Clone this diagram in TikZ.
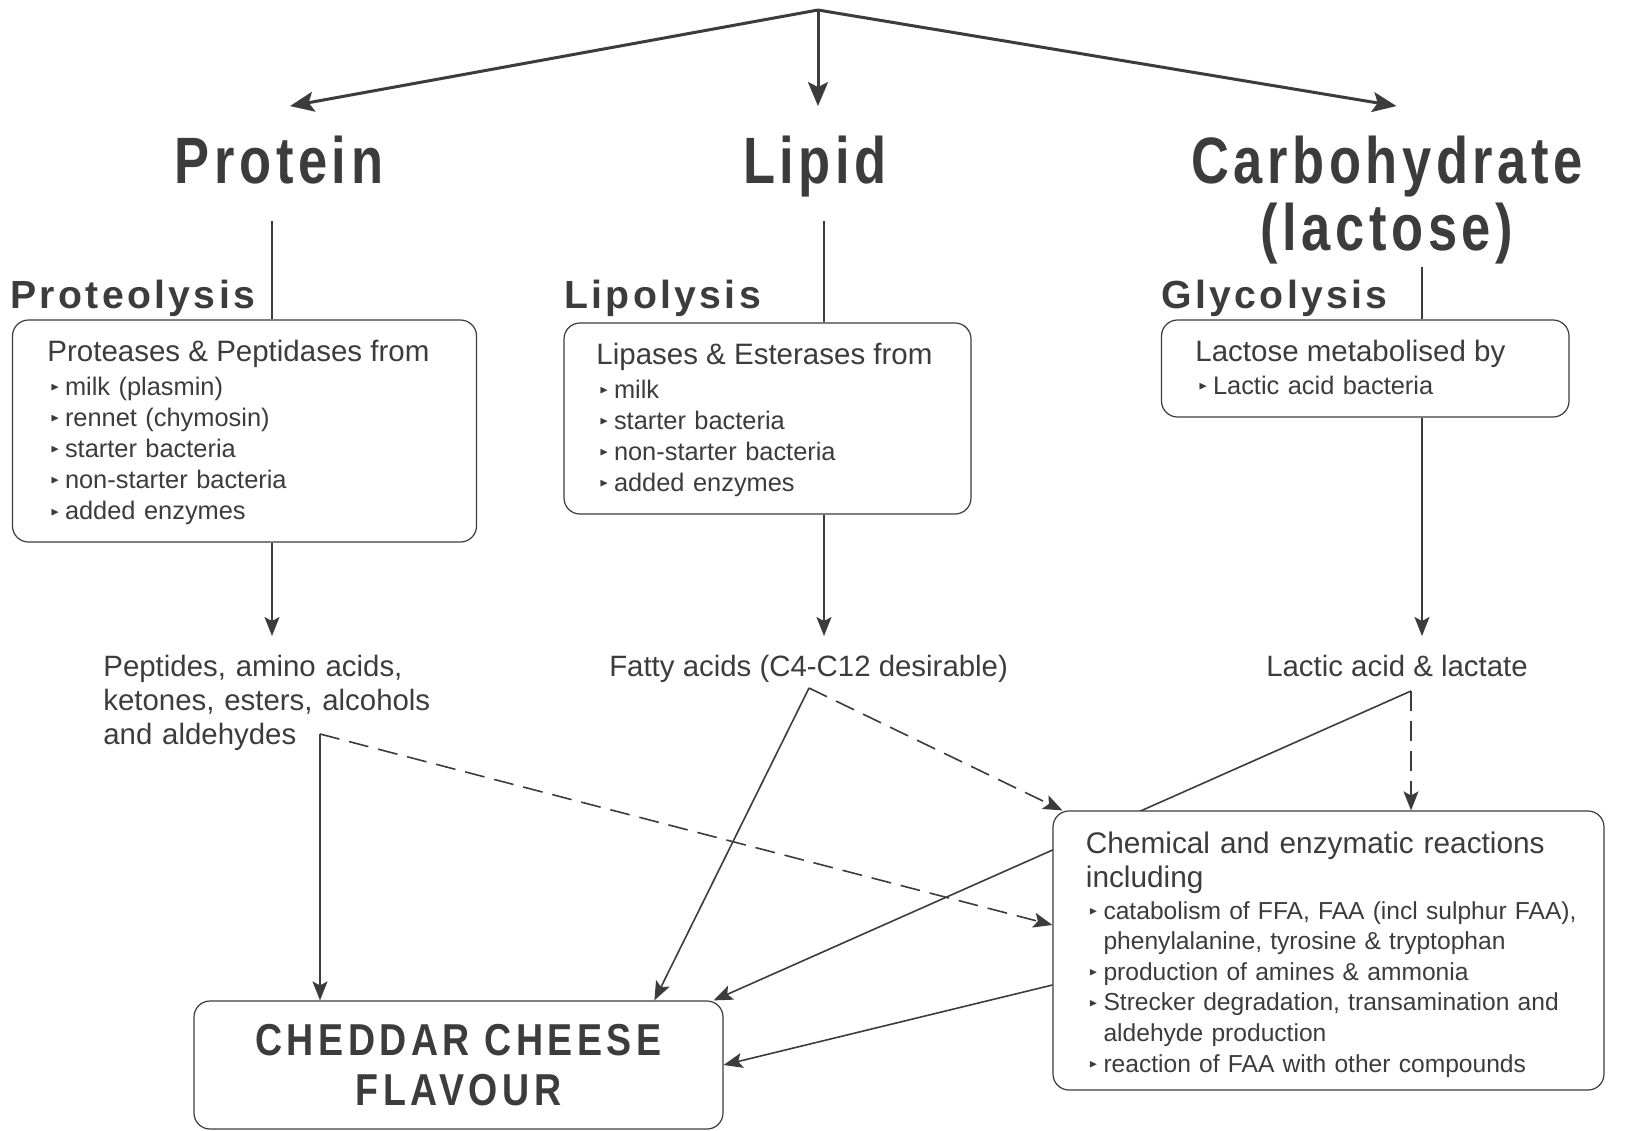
\documentclass[tikz,border=0pt]{standalone}
\usepackage{fontspec}
\usepackage{amssymb}
\usepackage{graphicx}
\setmainfont{Liberation Sans}
\newfontfamily\headfont{Liberation Sans}[FakeStretch=0.8,LetterSpace=7]
\newfontfamily\subheadfont{Liberation Sans}[LetterSpace=8.5]
\newfontfamily\flavourfont{Liberation Sans}[FakeStretch=0.84,LetterSpace=10]
\usetikzlibrary{arrows.meta}
\definecolor{ink}{RGB}{60,60,60}
\newcommand{\bul}{\makebox[8.8pt][l]{\hspace{1.6pt}\raisebox{0.35ex}{\scalebox{0.45}{$\blacktriangleright$}}}}
\newcommand{\ind}{\hspace*{8.8pt}}
\begin{document}
\begin{tikzpicture}[x=0.5pt, y=-0.5pt, color=ink,
        box/.style={draw, rounded corners=8pt, fill=white, line width=0.6pt},
        head/.style={font=\headfont\bfseries\fontsize{32.8}{36}\selectfont, inner sep=0pt, anchor=base},
        subhead/.style={font=\subheadfont\bfseries\fontsize{19.6}{22}\selectfont, inner sep=0pt, anchor=base west},
        boxtitle/.style={font=\fontsize{14.75}{17}\selectfont, inner sep=0pt, anchor=base west},
        items/.style={font=\fontsize{12.7}{15.6}\selectfont, inner sep=0pt, anchor=base west, text width=#1, align=left},
        product/.style={font=\fontsize{14.7}{17}\selectfont, inner sep=0pt, anchor=base},
        conn/.style={-{Stealth[length=9.5pt, width=7.5pt, inset=2pt]}, line width=0.8pt},
        bigarrow/.style={-{Stealth[length=12pt, width=10pt, inset=2.5pt]}, line width=1.5pt},
        stem/.style={line width=0.8pt},
        dashline/.style={dash pattern=on 10pt off 5pt}
    ]
        \useasboundingbox (0,0) rectangle (1635,1131);

        % Main headings
        \node[head] (protein) at (279,183) {Protein};
        \node[head] (lipid) at (815,183) {Lipid};
        \node[head] (carb) at (1387,183) {Carbohydrate};
        \node[head] (lactose) at (1387,250) {(lactose)};

        % Process names
        \node[subhead] (proteolysis) at (10,308) {Proteolysis};
        \node[subhead] (lipolysis) at (564,308) {Lipolysis};
        \node[subhead] (glycolysis) at (1161,308) {Glycolysis};

        % Enzyme boxes
        \node[box, minimum width=232pt, minimum height=111pt] (protbox) at (244.5,431) {};
        \node[box, minimum width=203.5pt, minimum height=95.5pt] (lipbox) at (767.5,418.5) {};
        \node[box, minimum width=203.75pt, minimum height=48.5pt] (carbbox) at (1365.25,368.5) {};

        \node[boxtitle] (prottitle) at (47,361) {Proteases \& Peptidases from};
        \node[items=200pt] (protitems) at (47,395) {\bul milk (plasmin)\\\bul rennet (chymosin)\\\bul starter bacteria\\\bul non-starter bacteria\\\bul added enzymes};
        \node[boxtitle] (liptitle) at (596,364.5) {Lipases \& Esterases from};
        \node[items=180pt] (lipitems) at (596,398) {\bul milk\\\bul starter bacteria\\\bul non-starter bacteria\\\bul added enzymes};
        \node[boxtitle] (carbtitle) at (1195,361) {Lactose metabolised by};
        \node[items=180pt] (carbitems) at (1195,394) {\bul Lactic acid bacteria};

        % Products
        \node[product, anchor=base west, text width=180pt, align=left] (peptides) at (103,676.5) {Peptides, amino acids,\\ketones, esters, alcohols\\and aldehydes};
        \node[product] (fatty) at (808.6,676.5) {Fatty acids (C4-C12 desirable)};
        \node[product] (lactic) at (1397,676.5) {Lactic acid \& lactate};

        % Flavour box
        \node[box, minimum width=264.5pt, minimum height=64pt, align=center,
            font=\flavourfont\bfseries\fontsize{22.35}{25}\selectfont] (flavour) at (458.5,1065) {CHEDDAR CHEESE\\FLAVOUR};

        % Junction points
        \coordinate (apex) at (818,10);
        \coordinate (protstem) at (272,221);
        \coordinate (lipstem) at (824,221);
        \coordinate (carbstem) at (1422,267);
        \coordinate (protout) at (272,636);
        \coordinate (lipout) at (824,636);
        \coordinate (carbout) at (1422,636);
        \coordinate (pepj) at (320,734);
        \coordinate (fatj) at (809,688);
        \coordinate (lacj) at (1411,691);

        % Lactate line runs behind the reactions box
        \draw[conn] (lacj) -- ([xshift=-5pt]flavour.north east);

        % Reactions box
        \node[box, minimum width=275.5pt, minimum height=139.5pt] (reactions) at (1328.5,950.5) {};
        \node[boxtitle, font=\fontsize{14.9}{16.75}\selectfont, text width=260pt, align=left] (reacttitle) at (1085.5,853.5) {Chemical and enzymatic reactions\\including};
        \node[items=262pt, font=\fontsize{12.3}{15.3}\selectfont] (reactitems) at (1085.5,919) {\bul catabolism of FFA, FAA (incl sulphur FAA),\\\ind phenylalanine, tyrosine \& tryptophan\\\bul production of amines \& ammonia\\\bul Strecker degradation, transamination and\\\ind aldehyde production\\\bul reaction of FAA with other compounds};

        % Arrows from the top
        \draw[bigarrow] (apex) -- ([xshift=5.5pt, yshift=14.5pt]protein.north);
        \draw[bigarrow] (apex) -- ([xshift=1.5pt, yshift=14.5pt]lipid.north);
        \draw[bigarrow] (apex) -- ([xshift=4.75pt, yshift=14.5pt]carb.north);

        % Stems into the boxes
        \draw[stem] (protstem) -- (protstem |- protbox.north);
        \draw[stem] (lipstem) -- (lipstem |- lipbox.north);
        \draw[stem] (carbstem) -- (carbstem |- carbbox.north);

        % Box outputs
        \draw[conn] (protbox.south -| protout) -- (protout);
        \draw[conn] (lipbox.south -| lipout) -- (lipout);
        \draw[conn] (carbbox.south -| carbout) -- (carbout);

        % Products to flavour and reactions
        \draw[conn] (pepj) -- (pepj |- flavour.north);
        \draw[conn, dashline] (pepj) -- ([yshift=12.75pt]reactions.west);
        \draw[conn] (fatj) -- ([xshift=230.5pt]flavour.north west);
        \draw[conn, dashline] (fatj) -- ([xshift=5pt]reactions.north west);
        \draw[conn, dashline] (lacj) -- (lacj |- reactions.north);
        \draw[conn] ([yshift=-17.25pt]reactions.west) -- (flavour.east);

    \end{tikzpicture}
\end{document}
